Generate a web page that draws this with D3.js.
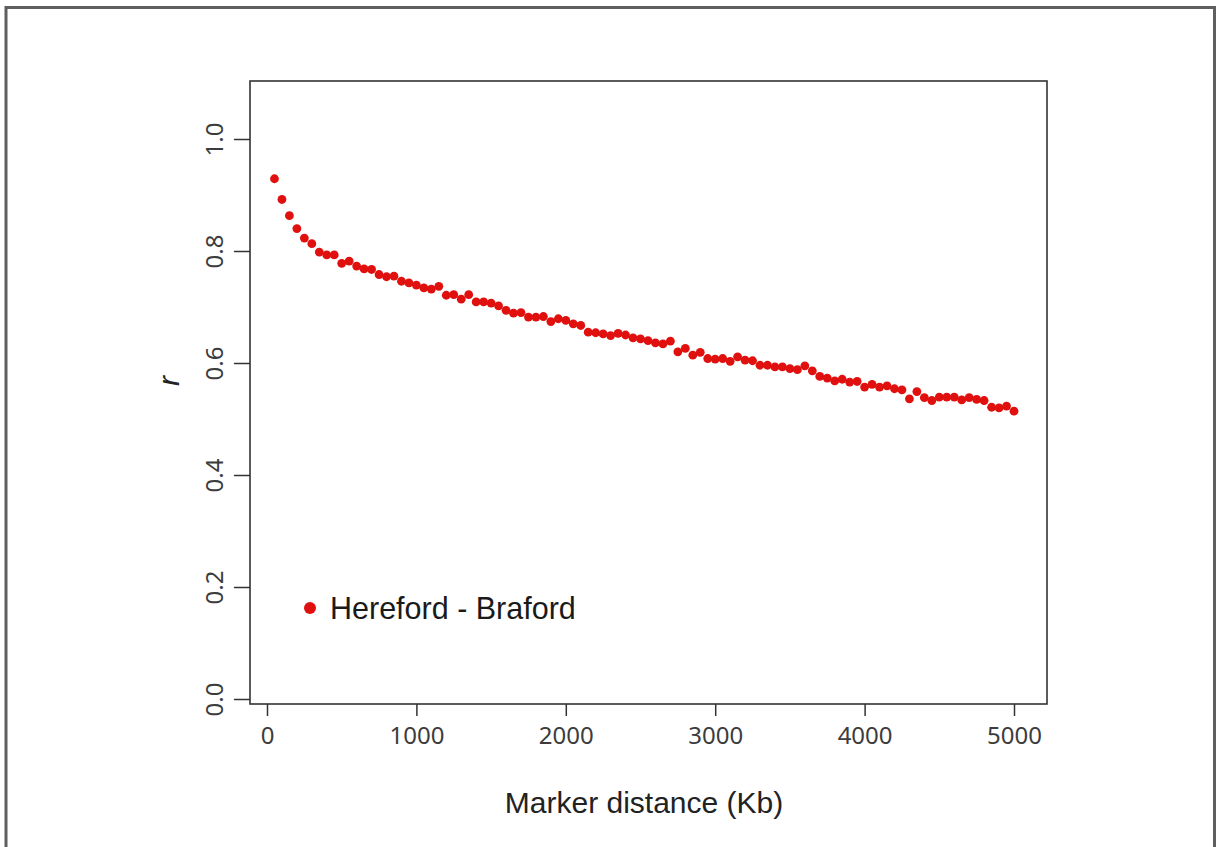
<!DOCTYPE html>
<html>
<head>
<meta charset="utf-8">
<script src="https://cdn.jsdelivr.net/npm/d3@7"></script>
<style>
  body { margin: 0; background: #fff; }
</style>
</head>
<body>
<div id="chart"></div>
<script>
// distance between markers (Kb)
const distances = [
  50, 100, 150, 200, 250, 300, 350, 400, 450, 500,
  550, 600, 650, 700, 750, 800, 850, 900, 950, 1000,
  1050, 1100, 1150, 1200, 1250, 1300, 1350, 1400, 1450, 1500,
  1550, 1600, 1650, 1700, 1750, 1800, 1850, 1900, 1950, 2000,
  2050, 2100, 2150, 2200, 2250, 2300, 2350, 2400, 2450, 2500,
  2550, 2600, 2650, 2700, 2750, 2800, 2850, 2900, 2950, 3000,
  3050, 3100, 3150, 3200, 3250, 3300, 3350, 3400, 3450, 3500,
  3550, 3600, 3650, 3700, 3750, 3800, 3850, 3900, 3950, 4000,
  4050, 4100, 4150, 4200, 4250, 4300, 4350, 4400, 4450, 4500,
  4550, 4600, 4650, 4700, 4750, 4800, 4850, 4900, 4950, 5000
];

// r between Hereford and Braford
const rValues = [
  0.929, 0.892, 0.863, 0.840, 0.823, 0.813, 0.798, 0.793, 0.793, 0.778,
  0.782, 0.773, 0.768, 0.767, 0.758, 0.754, 0.755, 0.746, 0.743, 0.739,
  0.734, 0.732, 0.737, 0.721, 0.722, 0.714, 0.722, 0.709, 0.709, 0.707,
  0.702, 0.694, 0.689, 0.690, 0.682, 0.682, 0.683, 0.674, 0.679, 0.676,
  0.670, 0.667, 0.655, 0.654, 0.652, 0.649, 0.653, 0.650, 0.645, 0.643,
  0.640, 0.636, 0.634, 0.639, 0.620, 0.626, 0.614, 0.619, 0.608, 0.607,
  0.608, 0.603, 0.611, 0.605, 0.604, 0.596, 0.596, 0.593, 0.593, 0.590,
  0.588, 0.595, 0.586, 0.576, 0.573, 0.568, 0.571, 0.566, 0.567, 0.557,
  0.562, 0.557, 0.559, 0.554, 0.552, 0.536, 0.549, 0.538, 0.533, 0.539,
  0.539, 0.539, 0.534, 0.538, 0.535, 0.533, 0.521, 0.520, 0.523, 0.514
];

const xTicks = [0, 1000, 2000, 3000, 4000, 5000];
const yTicks = [0, 0.2, 0.4, 0.6, 0.8, 1.0];
const seriesName = "Hereford - Braford";

const W = 1217, H = 847;
const box = { left: 250, right: 1047, top: 81, bottom: 704 };
const red = "#e0100f";

const svg = d3.select("#chart")
    .append("svg")
    .attr("width", W)
    .attr("height", H);

// outer frame (bottom edge is cut off in the picture)
svg.append("rect")
    .attr("x", 6).attr("y", 7.5)
    .attr("width", 1208.5).attr("height", 900)
    .attr("fill", "none")
    .attr("stroke", "#5f5f5f")
    .attr("stroke-width", 3);

const x = d3.scaleLinear().domain([0, 5000]).range([267, 1014]);
const y = d3.scaleLinear().domain([0, 1]).range([699, 139]);

const data = distances.map((d, i) => ({ dist: d, r: rValues[i] }));

// x axis
const gx = svg.append("g")
    .attr("transform", `translate(0,${box.bottom})`)
    .call(d3.axisBottom(x).tickValues(xTicks).tickSize(12).tickFormat(d3.format("d")));
gx.select(".domain").remove();
gx.selectAll("line").attr("stroke", "#333").attr("stroke-width", 1.5);
gx.selectAll("text")
    .attr("y", 30).attr("dy", null)
    .attr("dominant-baseline", "central")
    .style("font-family", "'Noto Sans', sans-serif")
    .style("font-size", "24px")
    .attr("fill", "#3c3c3c");

// y axis
const gy = svg.append("g")
    .attr("transform", `translate(${box.left},0)`)
    .call(d3.axisLeft(y).tickValues(yTicks).tickSize(16).tickFormat(d3.format(".1f")));
gy.select(".domain").remove();
gy.selectAll("line").attr("stroke", "#333").attr("stroke-width", 1.5);
gy.selectAll("text")
    .attr("x", 0).attr("y", -37).attr("dy", null)
    .attr("transform", "rotate(-90)")
    .attr("text-anchor", "middle")
    .attr("dominant-baseline", "central")
    .style("font-family", "'Noto Sans', sans-serif")
    .style("font-size", "24px")
    .attr("fill", "#3c3c3c");

// plot box
svg.append("rect")
    .attr("x", box.left).attr("y", box.top)
    .attr("width", box.right - box.left)
    .attr("height", box.bottom - box.top)
    .attr("fill", "none")
    .attr("stroke", "#333")
    .attr("stroke-width", 1.6);

// points
svg.selectAll(".dot")
    .data(data)
    .enter()
    .append("circle")
    .attr("class", "dot")
    .attr("cx", d => x(d.dist))
    .attr("cy", d => y(d.r))
    .attr("r", 4.4)
    .attr("fill", red);

// axis titles
svg.append("text")
    .attr("x", 644).attr("y", 813)
    .attr("text-anchor", "middle")
    .style("font-family", "'Liberation Sans', Arial, sans-serif")
    .style("font-size", "30px")
    .attr("fill", "#222")
    .text("Marker distance (Kb)");

svg.append("text")
    .attr("transform", "translate(179,381) rotate(-90)")
    .attr("text-anchor", "middle")
    .style("font-family", "'Liberation Sans', Arial, sans-serif")
    .style("font-style", "italic")
    .style("font-size", "30px")
    .attr("fill", "#222")
    .text("r");

// legend
const legend = svg.append("g").attr("transform", "translate(310,608)");
legend.append("circle").attr("r", 6).attr("fill", red);
legend.append("text")
    .attr("x", 20).attr("y", 11)
    .style("font-family", "'Liberation Sans', Arial, sans-serif")
    .style("font-size", "30.5px")
    .attr("fill", "#1a1a1a")
    .text(seriesName);
</script>
</body>
</html>
